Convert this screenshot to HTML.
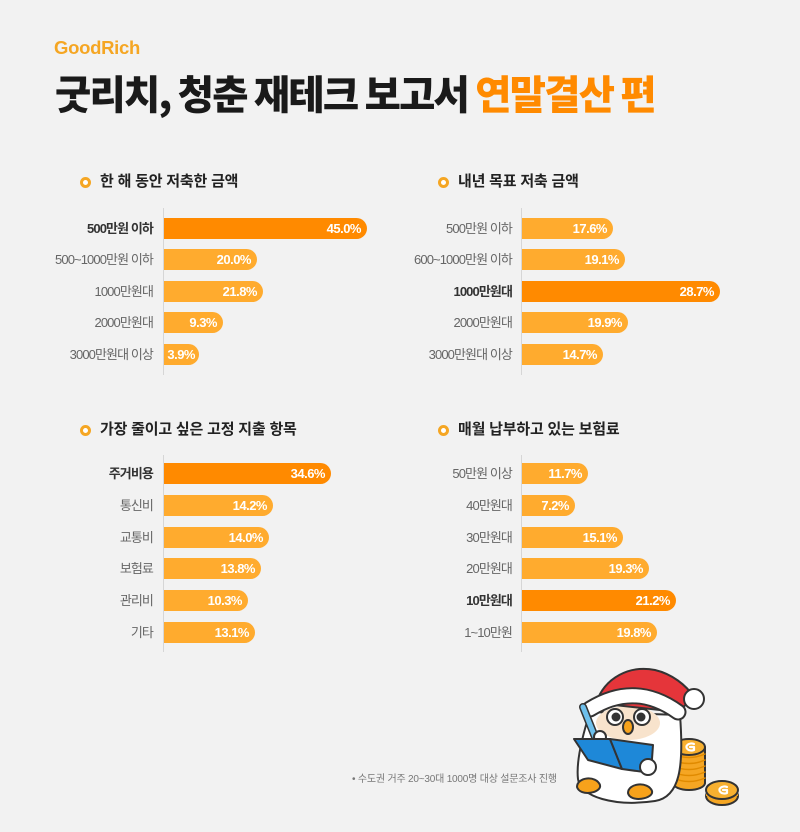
<!DOCTYPE html>
<html><head><meta charset="utf-8">
<style>
*{margin:0;padding:0;box-sizing:border-box}
html,body{width:800px;height:832px;background:#F2F2F2;overflow:hidden}
body{position:relative;font-family:"Liberation Sans","Noto Sans CJK KR",sans-serif}
.abs{position:absolute}
.logo{left:54px;top:37px;font-size:18.5px;font-weight:bold;color:#F5A623;letter-spacing:-0.3px}
.title{left:55px;top:69px;font-size:40px;font-weight:900;color:#1a1a1a;white-space:nowrap;letter-spacing:-1.8px;transform:scaleX(0.985);transform-origin:0 0;font-family:"Noto Sans CJK KR",sans-serif;line-height:46px}
.title span{color:#FF8A00}
.st{font-size:15px;font-weight:bold;color:#222;white-space:nowrap;letter-spacing:-0.2px;line-height:18px;font-family:"Liberation Sans","Noto Sans CJK KR",sans-serif}
.dot{width:11px;height:11px;border-radius:50%;border:3px solid #F5A623;background:#fff}
.axis{width:1px;background:#D6D6D6}
.lab{width:150px;text-align:right;font-size:13px;color:#666;letter-spacing:-0.9px;white-space:nowrap;height:21px;line-height:21px}
.lab.b{font-weight:bold;color:#333}
.bar{height:21px;background:#FFAB2E;border-radius:0 11px 11px 0;color:#fff;font-weight:bold;font-size:13px;text-align:right;padding-right:6px;line-height:21px;letter-spacing:-0.5px;white-space:nowrap}
.bar.h{background:#FF8A00}
.foot{left:352px;top:770px;font-size:10px;color:#777;letter-spacing:-0.2px;white-space:nowrap}
</style></head><body>
<div class="abs logo">GoodRich</div>
<div class="abs title">굿리치, 청춘 재테크 보고서 <span>연말결산 편</span></div>

<!-- Chart 1 -->
<div class="abs dot" style="left:80px;top:177px"></div>
<div class="abs st" style="left:100px;top:173px">한 해 동안 저축한 금액</div>
<div class="abs axis" style="left:163px;top:208px;height:167px"></div>
<div class="abs lab b" style="left:3px;top:218px">500만원 이하</div>
<div class="abs lab" style="left:3px;top:249px">500~1000만원 이하</div>
<div class="abs lab" style="left:3px;top:281px">1000만원대</div>
<div class="abs lab" style="left:3px;top:312px">2000만원대</div>
<div class="abs lab" style="left:3px;top:344px">3000만원대 이상</div>
<div class="abs bar h" style="left:164px;top:218px;width:203px">45.0%</div>
<div class="abs bar" style="left:164px;top:249px;width:93px">20.0%</div>
<div class="abs bar" style="left:164px;top:281px;width:99px">21.8%</div>
<div class="abs bar" style="left:164px;top:312px;width:59px">9.3%</div>
<div class="abs bar" style="left:164px;top:344px;width:35px;padding-right:4px">3.9%</div>

<!-- Chart 2 -->
<div class="abs dot" style="left:438px;top:177px"></div>
<div class="abs st" style="left:458px;top:173px">내년 목표 저축 금액</div>
<div class="abs axis" style="left:521px;top:208px;height:167px"></div>
<div class="abs lab" style="left:362px;top:218px">500만원 이하</div>
<div class="abs lab" style="left:362px;top:249px">600~1000만원 이하</div>
<div class="abs lab b" style="left:362px;top:281px">1000만원대</div>
<div class="abs lab" style="left:362px;top:312px">2000만원대</div>
<div class="abs lab" style="left:362px;top:344px">3000만원대 이상</div>
<div class="abs bar" style="left:522px;top:218px;width:91px">17.6%</div>
<div class="abs bar" style="left:522px;top:249px;width:103px">19.1%</div>
<div class="abs bar h" style="left:522px;top:281px;width:198px">28.7%</div>
<div class="abs bar" style="left:522px;top:312px;width:106px">19.9%</div>
<div class="abs bar" style="left:522px;top:344px;width:81px">14.7%</div>

<!-- Chart 3 -->
<div class="abs dot" style="left:80px;top:425px"></div>
<div class="abs st" style="left:100px;top:421px">가장 줄이고 싶은 고정 지출 항목</div>
<div class="abs axis" style="left:163px;top:455px;height:197px"></div>
<div class="abs lab b" style="left:3px;top:463px">주거비용</div>
<div class="abs lab" style="left:3px;top:495px">통신비</div>
<div class="abs lab" style="left:3px;top:527px">교통비</div>
<div class="abs lab" style="left:3px;top:558px">보험료</div>
<div class="abs lab" style="left:3px;top:590px">관리비</div>
<div class="abs lab" style="left:3px;top:622px">기타</div>
<div class="abs bar h" style="left:164px;top:463px;width:167px">34.6%</div>
<div class="abs bar" style="left:164px;top:495px;width:109px">14.2%</div>
<div class="abs bar" style="left:164px;top:527px;width:105px">14.0%</div>
<div class="abs bar" style="left:164px;top:558px;width:97px">13.8%</div>
<div class="abs bar" style="left:164px;top:590px;width:84px">10.3%</div>
<div class="abs bar" style="left:164px;top:622px;width:91px">13.1%</div>

<!-- Chart 4 -->
<div class="abs dot" style="left:438px;top:425px"></div>
<div class="abs st" style="left:458px;top:421px">매월 납부하고 있는 보험료</div>
<div class="abs axis" style="left:521px;top:455px;height:197px"></div>
<div class="abs lab" style="left:362px;top:463px">50만원 이상</div>
<div class="abs lab" style="left:362px;top:495px">40만원대</div>
<div class="abs lab" style="left:362px;top:527px">30만원대</div>
<div class="abs lab" style="left:362px;top:558px">20만원대</div>
<div class="abs lab b" style="left:362px;top:590px">10만원대</div>
<div class="abs lab" style="left:362px;top:622px">1~10만원</div>
<div class="abs bar" style="left:522px;top:463px;width:66px">11.7%</div>
<div class="abs bar" style="left:522px;top:495px;width:53px">7.2%</div>
<div class="abs bar" style="left:522px;top:527px;width:101px">15.1%</div>
<div class="abs bar" style="left:522px;top:558px;width:127px">19.3%</div>
<div class="abs bar h" style="left:522px;top:590px;width:154px">21.2%</div>
<div class="abs bar" style="left:522px;top:622px;width:135px">19.8%</div>

<div class="abs foot">• 수도권 거주 20~30대 1000명 대상 설문조사 진행</div>

<!-- Character -->
<svg class="abs" style="left:560px;top:657px" width="230" height="160" viewBox="0 0 230 160">
  <g stroke="#333" stroke-width="2" stroke-linejoin="round" stroke-linecap="round">
    <!-- coins stack -->
    <g fill="#F5A623">
      <ellipse cx="129" cy="126" rx="16" ry="7"/>
      <rect x="113" y="90" width="32" height="36" stroke="none"/>
      <line x1="113" y1="90" x2="113" y2="126"/>
      <line x1="145" y1="90" x2="145" y2="126"/>
    </g>
    <g fill="none" stroke="#E08A00" stroke-width="1.5">
      <path d="M113 97 Q129 104 145 97"/>
      <path d="M113 103 Q129 110 145 103"/>
      <path d="M113 109 Q129 116 145 109"/>
      <path d="M113 115 Q129 122 145 115"/>
      <path d="M113 121 Q129 128 145 121"/>
    </g>
    <ellipse cx="129" cy="90" rx="16" ry="8" fill="#F7B030"/>
    <path d="M134 87 A5 3.5 0 1 0 134 93 L134 90 L130 90" fill="none" stroke="#fff" stroke-width="2.2"/>
    <!-- single coin -->
    <ellipse cx="162" cy="139" rx="16" ry="9" fill="#F5A623"/>
    <rect x="146" y="133" width="32" height="6" fill="#F5A623" stroke="none"/>
    <ellipse cx="162" cy="133" rx="16" ry="9" fill="#F7B030"/>
    <path d="M167 130 A5 3.5 0 1 0 167 136 L167 133 L163 133" fill="none" stroke="#fff" stroke-width="2.2"/>
    <!-- body -->
    <path d="M30 55 C22 80 16 105 18 122 C20 140 55 150 95 144 C120 140 124 110 120 58 Z" fill="#fff"/>
    <!-- face -->
    <ellipse cx="68" cy="66" rx="32" ry="17" fill="#F8E3CC" stroke="none"/>
    <circle cx="55" cy="60" r="8" fill="#fff"/>
    <circle cx="56" cy="60" r="4.5" fill="#333" stroke="none"/>
    <circle cx="82" cy="60" r="8" fill="#fff"/>
    <circle cx="81" cy="60" r="4.5" fill="#333" stroke="none"/>
    <ellipse cx="68" cy="70" rx="5" ry="7" fill="#F7A21B"/>
    <!-- hat -->
    <path d="M36 46 C45 20 70 8 95 13 C112 17 126 28 134 40 L118 55 Z" fill="#E5353A"/>
    <path d="M30 52 Q75 24 118 55" fill="none" stroke="#333" stroke-width="17"/>
    <path d="M30 52 Q75 24 118 55" fill="none" stroke="#fff" stroke-width="13"/>
    <circle cx="134" cy="42" r="10" fill="#fff"/>
    <!-- pen -->
    <path d="M23 50 L35 80" stroke="#333" stroke-width="8"/>
    <path d="M23 50 L35 80" stroke="#6EC0EC" stroke-width="5"/>
    <circle cx="40" cy="80" r="6" fill="#fff"/>
    <!-- book -->
    <path d="M14 82 L50 82 L62 112 L28 103 Z" fill="#1E88D8"/>
    <path d="M50 82 L93 88 L91 116 L62 112 Z" fill="#1E88D8"/>
    <circle cx="88" cy="110" r="8" fill="#fff"/>
    <!-- feet -->
    <path d="M17 130 C17 120 36 118 40 128 C42 136 20 140 17 130 Z" fill="#F7A21B"/>
    <path d="M68 136 C68 126 88 124 92 134 C94 142 70 146 68 136 Z" fill="#F7A21B"/>
  </g>
</svg>
</body></html>
